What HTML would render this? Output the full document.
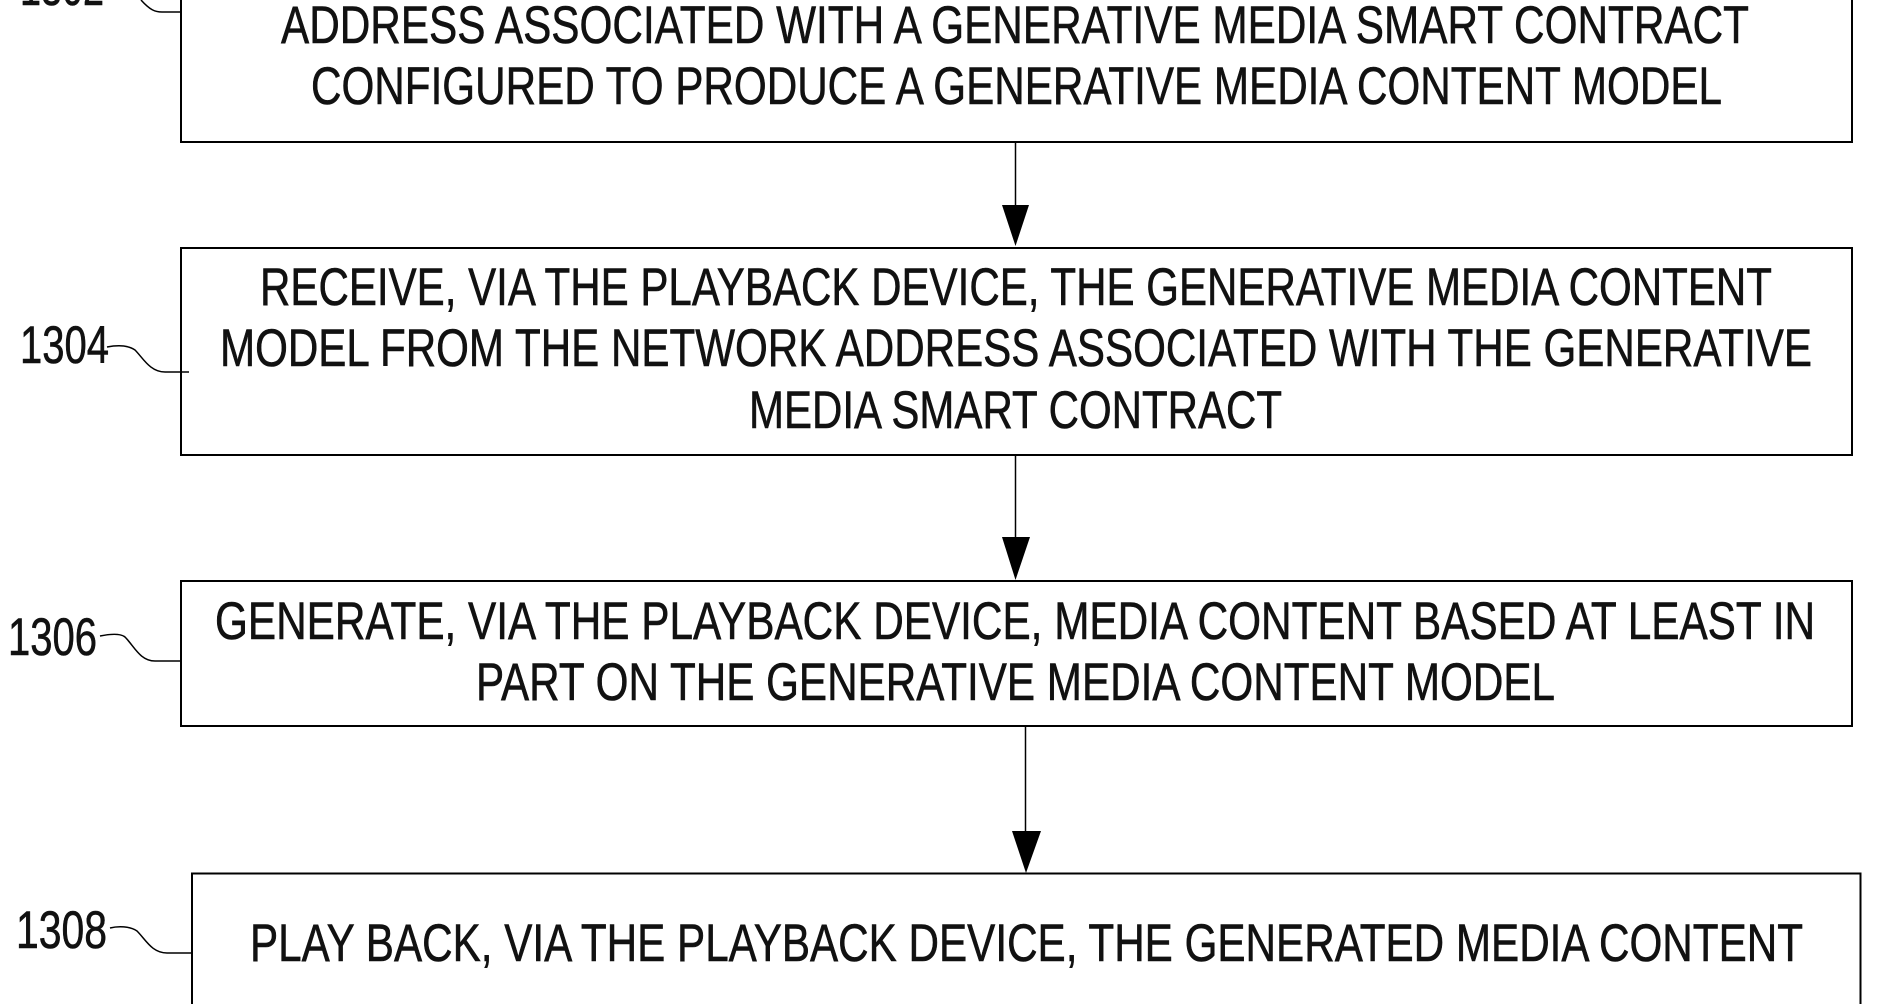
<!DOCTYPE html>
<html>
<head>
<meta charset="utf-8">
<style>
html,body{margin:0;padding:0;background:#fff;width:1879px;height:1004px;overflow:hidden}
svg{display:block}
text{font-family:"Liberation Sans",Arial,sans-serif;font-size:53px;fill:#111;stroke:#111;stroke-width:.6px}
</style>
</head>
<body>
<svg width="1879" height="1004" viewBox="0 0 1879 1004" xmlns="http://www.w3.org/2000/svg">
<rect width="1879" height="1004" fill="#fff"/>
<g fill="none" stroke="#000" stroke-width="2">
<path d="M181 -5V142H1852V-5"/>
<rect x="181" y="248" width="1671" height="207"/>
<rect x="181" y="581" width="1671" height="145"/>
<path d="M192 1010V873.500H1860.500V1010"/>
</g>
<g fill="none" stroke="#000" stroke-width="1.500">
<path d="M1015.500 142V208"/>
<path d="M1015.500 455V540"/>
<path d="M1025.500 726V833"/>
<path d="M141 0C150 10 155 12 162 12H181"/>
<path d="M107 347C118 345 128 345 135 350C143 358 150 372 165 372H189"/>
<path d="M100 636C110 634 120 633 125 637C134 646 140 661 155 661H180"/>
<path d="M110 928C118 926 130 926 137 931C146 940 152 953 167 953H192"/>
</g>
<g fill="#000">
<polygon points="1002,205 1029,205 1015.500,246"/>
<polygon points="1002,537 1030,537 1015.500,580"/>
<polygon points="1012,831 1041,831 1026,873"/>
</g>
<text x="281" y="43" textLength="1468" lengthAdjust="spacingAndGlyphs">ADDRESS ASSOCIATED WITH A GENERATIVE MEDIA SMART CONTRACT</text>
<text x="311" y="104" textLength="1411" lengthAdjust="spacingAndGlyphs">CONFIGURED TO PRODUCE A GENERATIVE MEDIA CONTENT MODEL</text>
<text x="260" y="305" textLength="1512" lengthAdjust="spacingAndGlyphs">RECEIVE, VIA THE PLAYBACK DEVICE, THE GENERATIVE MEDIA CONTENT</text>
<text x="220" y="366" textLength="1592" lengthAdjust="spacingAndGlyphs">MODEL FROM THE NETWORK ADDRESS ASSOCIATED WITH THE GENERATIVE</text>
<text x="749" y="428" textLength="533" lengthAdjust="spacingAndGlyphs">MEDIA SMART CONTRACT</text>
<text x="215" y="639" textLength="1600" lengthAdjust="spacingAndGlyphs">GENERATE, VIA THE PLAYBACK DEVICE, MEDIA CONTENT BASED AT LEAST IN</text>
<text x="476" y="700" textLength="1079" lengthAdjust="spacingAndGlyphs">PART ON THE GENERATIVE MEDIA CONTENT MODEL</text>
<text x="250" y="961" textLength="1553" lengthAdjust="spacingAndGlyphs">PLAY BACK, VIA THE PLAYBACK DEVICE, THE GENERATED MEDIA CONTENT</text>
<text x="20" y="5" textLength="84" lengthAdjust="spacingAndGlyphs">1302</text>
<text x="20" y="363" textLength="89" lengthAdjust="spacingAndGlyphs">1304</text>
<text x="8" y="655" textLength="89" lengthAdjust="spacingAndGlyphs">1306</text>
<text x="16" y="948" textLength="91" lengthAdjust="spacingAndGlyphs">1308</text>
</svg>
</body>
</html>
